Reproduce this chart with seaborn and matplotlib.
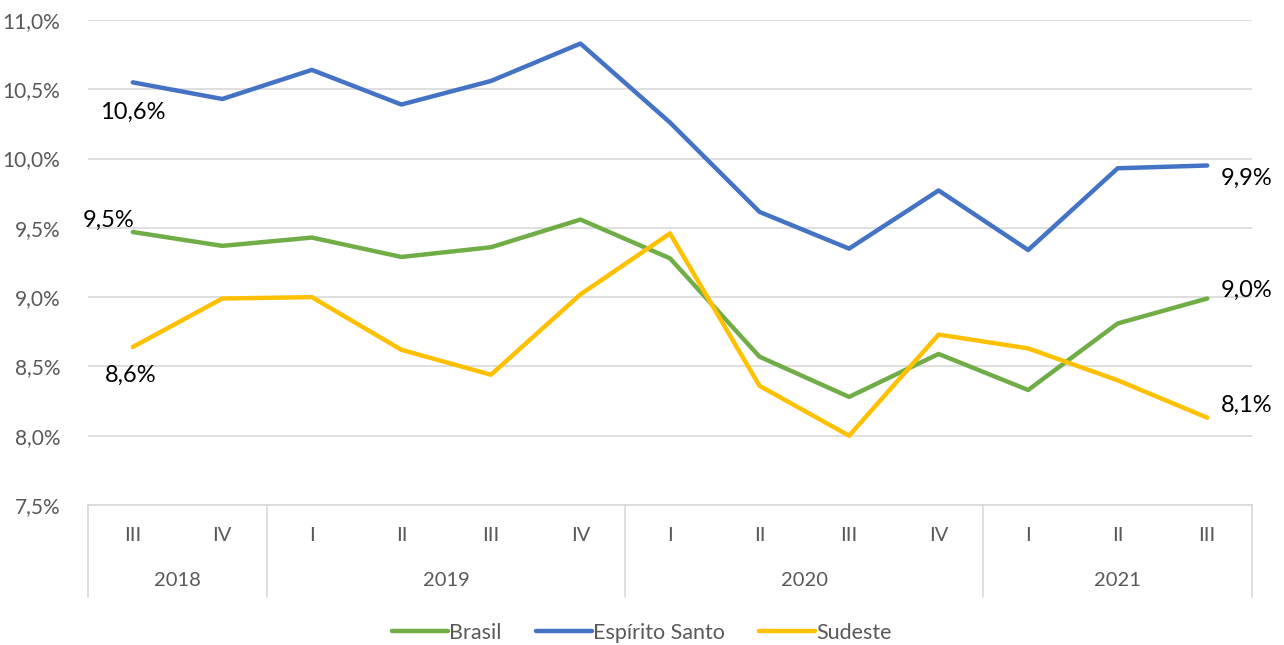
import numpy as np
import pandas as pd
import matplotlib
matplotlib.use("Agg")
import matplotlib.pyplot as plt
import seaborn as sns

# Data
years = ["2018", "2019", "2020", "2021"]
quarters = ["III", "IV", "I", "II", "III", "IV", "I", "II", "III", "IV", "I", "II", "III"]
year_of_quarter = ["2018", "2018", "2019", "2019", "2019", "2019",
                   "2020", "2020", "2020", "2020", "2021", "2021", "2021"]

brasil = [9.47, 9.37, 9.43, 9.29, 9.36, 9.56, 9.28, 8.57, 8.28, 8.59, 8.33, 8.81, 8.99]
espirito_santo = [10.55, 10.43, 10.64, 10.39, 10.56, 10.83, 10.26, 9.615, 9.35, 9.77, 9.34, 9.93, 9.95]
sudeste = [8.64, 8.99, 9.00, 8.62, 8.44, 9.02, 9.46, 8.36, 8.00, 8.73, 8.63, 8.40, 8.13]

series_names = ["Brasil", "Espírito Santo", "Sudeste"]
colors = ["#70AD47", "#4472C4", "#FFC000"]

# Build long-form table
rows = []
for name, vals in zip(series_names, [brasil, espirito_santo, sudeste]):
    for i, v in enumerate(vals):
        rows.append([i, v, name])
df = pd.DataFrame(rows, columns=["pos", "taxa", "serie"])

sns.set_theme(style="white")
plt.rcParams["font.family"] = ["Lato", "DejaVu Sans"]

fig = plt.figure(figsize=(12.84, 6.45), dpi=100)
ax = fig.add_axes([88 / 1284, 1 - 505 / 645, (1252 - 88) / 1284, 485 / 645])

sns.lineplot(data=df, x="pos", y="taxa", hue="serie", hue_order=series_names,
             palette=colors, linewidth=3.2, ax=ax, legend=True)

ax.set_xlim(-0.5, 12.5)
ax.set_ylim(7.5, 11.0)
ax.set_yticks(np.arange(7.5, 11.01, 0.5))
ax.set_yticklabels([f"{v:.1f}%".replace(".", ",") for v in np.arange(7.5, 11.01, 0.5)],
                   color="#595959", fontsize=15)
ax.tick_params(axis="y", length=0, pad=20)
ax.set_xticks([])
ax.set_xlabel("")
ax.set_ylabel("")
ax.grid(axis="y", color="#d9d9d9", linewidth=1.2)
ax.set_axisbelow(True)
for s in ["left", "right", "top"]:
    ax.spines[s].set_visible(False)
ax.spines["bottom"].set_color("#d9d9d9")
ax.spines["bottom"].set_linewidth(1.2)

# Two-level category axis
trans = matplotlib.transforms.blended_transform_factory(ax.transData, ax.transAxes)
for i, q in enumerate(quarters):
    ax.text(i, -0.062, q, transform=trans, ha="center", va="center",
            color="#595959", fontsize=14.5)
bounds = [-0.5]
for y in years:
    idx = [i for i, yy in enumerate(year_of_quarter) if yy == y]
    ax.text((idx[0] + idx[-1]) / 2, -0.155, y, transform=trans, ha="center",
            va="center", color="#595959", fontsize=14.5)
    bounds.append(idx[-1] + 0.5)
for b in bounds:
    ax.plot([b, b], [0, -0.19], transform=trans, color="#d9d9d9",
            linewidth=1.2, clip_on=False)

# Data labels
labels = [
    (0, espirito_santo[0], "10,6%", (0, -30), "center"),
    (0, brasil[0], "9,5%", (-24, 12), "center"),
    (0, sudeste[0], "8,6%", (-2, -28), "center"),
    (12, espirito_santo[12], "9,9%", (14, -13), "left"),
    (12, brasil[12], "9,0%", (14, 8), "left"),
    (12, sudeste[12], "8,1%", (14, 12), "left"),
]
for x, y, t, off, ha in labels:
    ax.annotate(t, (x, y), xytext=off, textcoords="offset pixels",
                ha=ha, va="center", fontsize=17, color="black")

# Legend at the bottom
handles, lbls = ax.get_legend_handles_labels()
ax.legend_.remove()
fig.legend(handles, lbls, loc="center", bbox_to_anchor=(0.5, 1 - 633 / 645),
           ncol=3, frameon=False, fontsize=15.5, handlelength=2.6,
           handletextpad=0.05, columnspacing=1.6, labelcolor="#595959")

fig.savefig("out.png", dpi=100)
